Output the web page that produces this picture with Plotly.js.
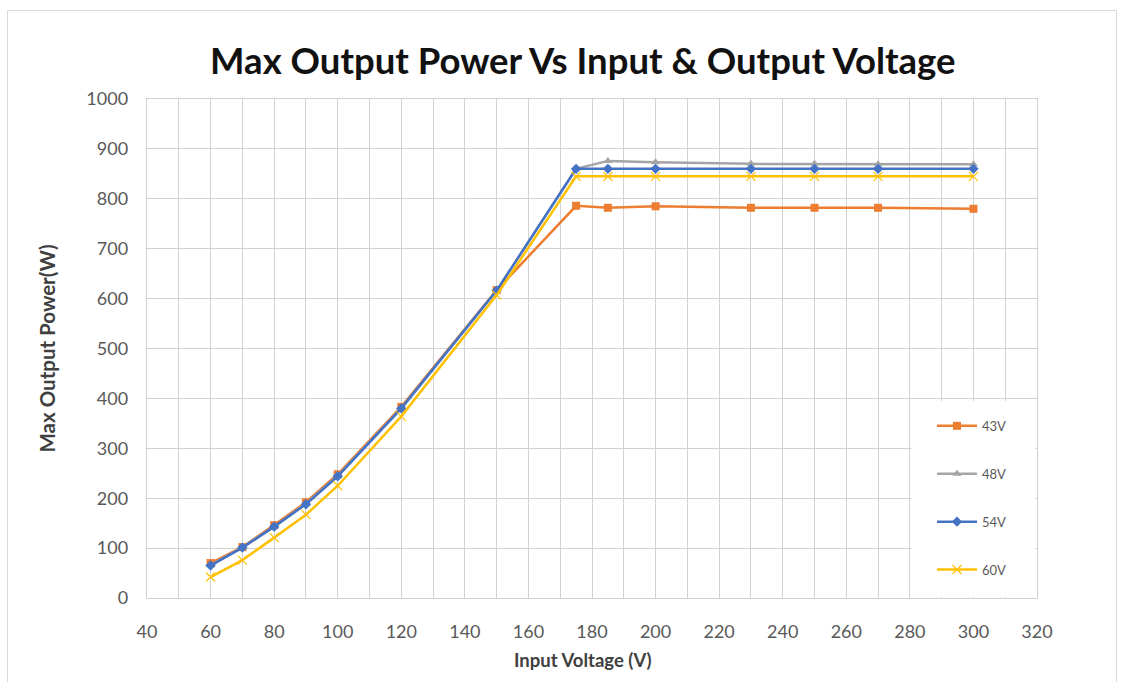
<!DOCTYPE html>
<html>
<head>
<meta charset="utf-8">
<script src="https://cdn.plot.ly/plotly-3.0.1.min.js"></script>
<style>
html,body{margin:0;padding:0;background:#fff;}
#chart{width:1123px;height:682px;position:absolute;left:0;top:0;}
#frame{position:absolute;left:7px;top:10px;width:1108px;height:680px;border:1.5px solid #d9d9d9;pointer-events:none;}
</style>
</head>
<body>
<div id="chart"></div>
<div id="frame"></div>
<script>
const inputVoltage = [60, 70, 80, 90, 100, 120, 150, 175, 185, 200, 230, 250, 270, 300];
const power43V = [70, 102, 146, 192, 248, 383, 617, 786, 782, 785, 782, 782, 782, 780];
const power48V = [66, 101, 143, 189, 245, 380, 616, 860, 876, 873, 870, 870, 869, 869];
const power54V = [65, 101, 143, 188, 244, 380, 616, 860, 860, 860, 860, 860, 860, 860];
const power60V = [42, 76, 121, 167, 225, 364, 607, 845, 845, 845, 845, 845, 845, 845];
const seriesNames = ['43V', '48V', '54V', '60V'];
const xTitle = 'Input Voltage (V)';

const colors = ['#ED7D31', '#A5A5A5', '#4472C4', '#FFC000'];
const symbols = ['square', 'triangle-up', 'diamond', 'x-thin-open'];
const allSeries = [power43V, power48V, power54V, power60V];

const traces = allSeries.map((ys, i) => ({
  x: inputVoltage,
  y: ys,
  name: seriesNames[i],
  type: 'scatter',
  mode: 'lines+markers',
  legendgroup: 'g' + i,
  line: {color: colors[i], width: 2.5},
  marker: {
    symbol: symbols[i],
    size: i === 3 ? 9 : 8,
    color: colors[i],
    line: {color: colors[i], width: i === 3 ? 1.2 : 0}
  }
}));

const fontFam = 'Lato, "Open Sans", sans-serif';
const gridC = '#d2d2d2';

const layout = {
  width: 1123,
  height: 682,
  margin: {l: 147, r: 86, t: 99, b: 84},
  paper_bgcolor: '#fff',
  plot_bgcolor: '#fff',
  title: {
    text: '<b>Max Output Power Vs Input &amp; Output Voltage</b>',
    font: {family: fontFam, size: 36.5, color: '#111111'},
    x: 0.519, xanchor: 'center',
    y: 0.91, yanchor: 'middle'
  },
  xaxis: {
    range: [40, 320],
    dtick: 20,
    tick0: 40,
    showgrid: true,
    gridcolor: gridC,
    gridwidth: 1,
    minor: {dtick: 10, showgrid: true, gridcolor: gridC, gridwidth: 1},
    showline: true,
    linecolor: gridC,
    linewidth: 1.3,
    mirror: true,
    zeroline: false,
    ticks: '',
    ticklabelstandoff: 17,
    tickfont: {family: fontFam, size: 18, color: '#595959'}
  },
  yaxis: {
    range: [0, 1000],
    dtick: 100,
    showgrid: true,
    gridcolor: gridC,
    gridwidth: 1,
    showline: true,
    linecolor: gridC,
    linewidth: 1.3,
    mirror: true,
    zeroline: false,
    ticks: '',
    ticklabelstandoff: 14,
    tickfont: {family: fontFam, size: 18, color: '#595959'},
    title: {
      text: '<b>Max Output Power(W)</b>',
      font: {family: fontFam, size: 20.5, color: '#404040'},
      standoff: 25
    }
  },
  annotations: [{
    xref: 'paper', yref: 'paper',
    x: 0.49, y: -0.125, xanchor: 'center', yanchor: 'middle',
    text: '<b>' + xTitle + '</b>', showarrow: false,
    font: {family: fontFam, size: 18.5, color: '#404040'}
  }],
  legend: {
    x: 0.882, xanchor: 'left',
    y: 0.375, yanchor: 'top',
    bgcolor: 'rgba(255,255,255,0)',
    traceorder: 'grouped',
    tracegroupgap: 28,
    font: {family: fontFam, size: 13, color: '#595959'},
    itemwidth: 40
  },
  shapes: [{
    type: 'rect', xref: 'paper', yref: 'paper',
    x0: 0.859, x1: 0.998, y0: 0.002, y1: 0.395,
    fillcolor: '#ffffff', line: {width: 0}, layer: 'above'
  }],
  showlegend: true
};

Plotly.newPlot('chart', traces, layout, {displayModeBar: false, staticPlot: true});
</script>
</body>
</html>
